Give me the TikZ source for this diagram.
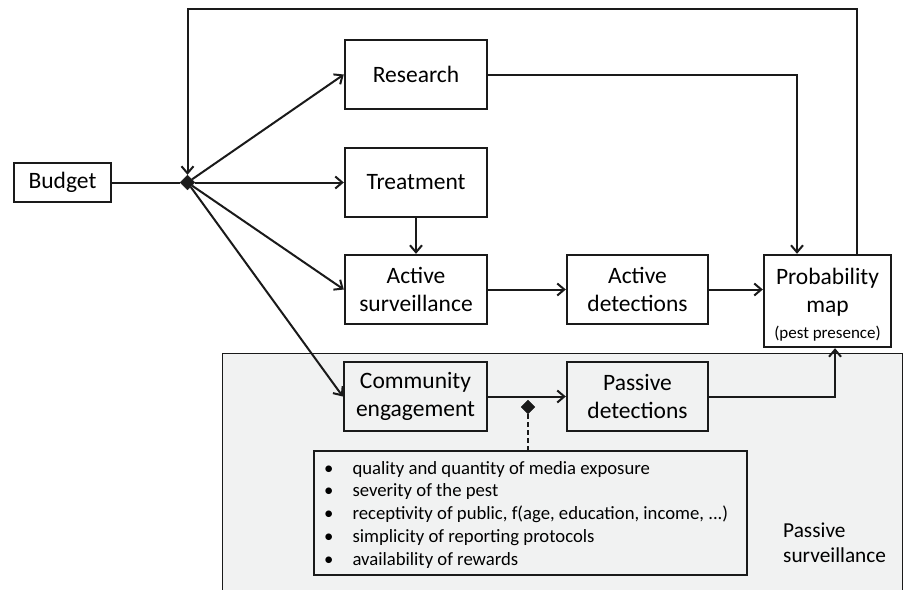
\documentclass[tikz,border=0pt]{standalone}
\usepackage{fontspec}
\setmainfont{Carlito}
\usetikzlibrary{arrows.meta,shapes.geometric}
\definecolor{ln}{HTML}{1A1A1A}
\definecolor{pale}{HTML}{F1F2F2}
\begin{document}
\begin{tikzpicture}[x=1pt,y=-1pt,
  box/.style={draw=ln,line width=2.4pt,fill=white,align=center,inner sep=0pt,
    font=\fontsize{23.5}{28}\selectfont},
  dia/.style={diamond,fill=ln,draw=ln,inner sep=0pt,minimum size=15pt},
  arr/.style={draw=ln,line width=2pt,-{Straight Barb[length=7pt,width=12pt,line width=2pt]}},
  lnk/.style={draw=ln,line width=2pt}]
\useasboundingbox (0,0) rectangle (904,589);
% passive surveillance region
\path[fill=pale,draw=ln,line width=1.2pt] (222.5,353.5) rectangle (902.5,600);
\node[anchor=north west,align=left,inner sep=0pt,font=\fontsize{21.3}{25}\selectfont] (pstxt) at (783,523) {Passive\\surveillance};
% nodes
\node[box,minimum width=97pt,minimum height=39pt] (budget) at (62.5,182.5) {Budget};
\node[dia] (d1) at (187.5,182.5) {};
\node[box,minimum width=142pt,minimum height=69pt] (research) at (416,74.5) {Research};
\node[box,minimum width=142pt,minimum height=69pt] (treat) at (416,182.5) {Treatment};
\node[box,minimum width=142pt,minimum height=69pt] (asurv) at (416,289.5) {Active\\surveillance};
\node[box,minimum width=141pt,minimum height=69pt] (adet) at (637.5,289.5) {Active\\detections};
\node[box,minimum width=127pt,minimum height=92pt] (prob) at (827.5,301) {};
\node[align=center,inner sep=0pt,font=\fontsize{23.5}{28}\selectfont] (probtxt) at (827.5,305) {Probability\\map\\[-2pt]{\fontsize{17}{20}\selectfont(pest presence)}};
\node[box,minimum width=143pt,minimum height=69pt,fill=pale] (comm) at (415.5,396.5) {Community\\engagement};
\node[box,minimum width=141pt,minimum height=69pt,fill=pale] (pdet) at (637.5,396.5) {Passive\\detections};
\node[draw=ln,line width=1.2pt,fill=pale,minimum width=433pt,minimum height=124pt,inner sep=0pt] (list) at (530.5,513) {};
\node[anchor=north west,inner sep=0pt,align=left,font=\fontsize{18.7}{22.8}\selectfont] (listtxt) at (324,458)
 {\begin{tabular}{@{}l@{\hspace{19pt}}l@{}}
 \textbullet & quality and quantity of media exposure\\
 \textbullet & severity of the pest\\
 \textbullet & receptivity of public, f(age, education, income, ...)\\
 \textbullet & simplicity of reporting protocols\\
 \textbullet & availability of rewards
 \end{tabular}};
% connectors
\draw[lnk] (budget.east) -- (d1.west);
\draw[arr] (d1) -- (research.west);
\draw[arr] (d1) -- (treat.west);
\draw[arr] (d1) -- (asurv.west);
\draw[arr] (d1) -- (comm.west);
\draw[arr] (treat.south) -- (asurv.north);
\draw[arr] (asurv.east) -- (adet.west);
\draw[arr] (adet.east) -- (prob.west |- adet.east);
\draw[arr] (research.east) -| ([xshift=-30.5pt]prob.north);
\draw[arr] (pdet.east) -| ([xshift=7.5pt]prob.south);
\draw[arr] ([xshift=29.5pt]prob.north) |- (187.5,9) -- (d1.north);
\draw[arr] (comm.east) -- (pdet.west);
\node[dia,minimum size=14pt] (d2) at (528,407) {};
\draw[draw=ln,line width=1.6pt,dashed,dash pattern=on 5pt off 3pt] (d2.south) -- (d2.south |- list.north);
\end{tikzpicture}
\end{document}
